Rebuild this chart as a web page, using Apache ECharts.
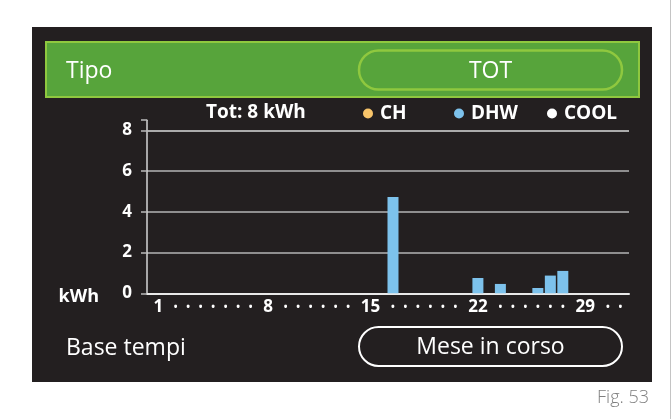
<!DOCTYPE html>
<html>
<head>
<meta charset="utf-8">
<title>Tipo TOT – Mese in corso</title>
<script src="https://cdn.jsdelivr.net/npm/echarts@6/dist/echarts.min.js"></script>
<style>
  html, body { margin: 0; padding: 0; background: #ffffff; }
  #stage { position: relative; width: 672px; height: 419px; }
  /* dark display panel behind the chart */
  #panel { position: absolute; left: 32px; top: 27px; width: 620px; height: 355px;
           background: #231f20; }
  #chart { position: absolute; left: 0; top: 0; width: 672px; height: 419px; }
</style>
</head>
<body>
<div id="stage">
  <div id="panel"></div>
  <div id="chart"></div>
</div>
<script>
// Day strip shown under the bars: numbered days and dots in between
const xTicks = ['1', '•', '•', '•', '•', '•', '•', '•', '8', '•', '•', '•', '•', '•', '•',
                '15', '•', '•', '•', '•', '•', '•', '22', '•', '•', '•', '•', '•', '•',
                '29', '•', '•'];

// Daily energy per use (kWh), one entry per position of the strip
const chValues   = [0, 0, 0, 0, 0, 0, 0, 0, 0, 0, 0, 0, 0, 0, 0, 0,
                    0, 0, 0, 0, 0, 0, 0, 0, 0, 0, 0, 0, 0, 0, 0, 0];
const dhwValues  = [0, 0, 0, 0, 0, 0, 0, 0, 0, 0, 0, 0, 0, 0, 0, 0,
                    4.73, 0, 0, 0, 0, 0, 0.75, 0.46, 0, 0, 0.26, 0.87, 1.10, 0, 0, 0];
const coolValues = [0, 0, 0, 0, 0, 0, 0, 0, 0, 0, 0, 0, 0, 0, 0, 0,
                    0, 0, 0, 0, 0, 0, 0, 0, 0, 0, 0, 0, 0, 0, 0, 0];

const yTicks = [0, 2, 4, 6, 8];
const yTop = 8.5;   // the value axis runs a little past its last tick

// --- layout of the day strip -------------------------------------------
// The strip is laid out like a line of text: numbers take more room than
// dots, so every entry is placed on a fine sub-slot grid.
const LEAD = 4, TRAIL = 3, STEP = 5;
const extra = t => (t === '•' ? 0 : t.length === 1 ? 2 : 4);
const slotOf = [];
let pos = LEAD;
xTicks.forEach((t, i) => {
  slotOf.push(pos);
  if (i < xTicks.length - 1) pos += STEP + extra(t) + extra(xTicks[i + 1]);
});
const slotCount = slotOf[slotOf.length - 1] + 1 + TRAIL;
const slots = Array.from({ length: slotCount }, (_, k) => k);
const labelAt = slots.map(() => '');
slotOf.forEach((s, i) => { labelAt[s] = xTicks[i]; });
const toSlots = values => {
  const out = slots.map(() => null);
  slotOf.forEach((s, i) => { out[s] = values[i] || null; });
  return out;
};

const total = [chValues, dhwValues, coolValues]
  .reduce((acc, arr) => acc + arr.reduce((a, b) => a + b, 0), 0);

const colors = { CH: '#f8c46a', DHW: '#7dc2ec', COOL: '#ffffff' };
const FONT = '"Open Sans", "Noto Sans", sans-serif';
const GREEN = '#57a43b';
const GREEN_LIGHT = '#8fc83f';

const chart = echarts.init(document.getElementById('chart'), null, { renderer: 'canvas' });

const legendAt = (name, left) => ({
  data: [name],
  left: left,
  top: 104,
  padding: 0,
  icon: 'circle',
  itemWidth: 10,
  itemHeight: 10,
  selectedMode: false,
  textStyle: {
    color: '#ffffff', fontFamily: FONT, fontWeight: 'bold', fontSize: 19,
    padding: [0, 0, 0, 2]
  }
});

const barSeries = (name, values) => ({
  name: name,
  type: 'bar',
  barWidth: 11,
  barGap: '-100%',
  data: toSlots(values),
  itemStyle: { color: colors[name] }
});

const dhwSeries = barSeries('DHW', dhwValues);
// grid line for the last tick of the scale
dhwSeries.markLine = {
  silent: true,
  z: 20,
  symbol: ['none', 'none'],
  label: { show: false },
  lineStyle: { color: '#b4b4b4', width: 1.5, type: 'solid' },
  data: [{ yAxis: yTicks[yTicks.length - 1] }]
};

chart.setOption({
  animation: false,
  backgroundColor: 'transparent',
  textStyle: { fontFamily: FONT },
  title: {
    text: 'Tot: ' + Math.round(total) + ' kWh',
    left: 206,
    top: 103,
    padding: 0,
    textStyle: { color: '#ffffff', fontFamily: FONT, fontWeight: 'bold', fontSize: 19 }
  },
  legend: [legendAt('CH', 363), legendAt('DHW', 454), legendAt('COOL', 547)],
  grid: {
    left: 147, right: 43, top: 120.2, bottom: 125.7,
    outerBoundsMode: 'none'
  },
  xAxis: {
    type: 'category',
    data: slots,
    boundaryGap: true,
    axisLine: { show: true, lineStyle: { color: '#e9e9e9', width: 2 } },
    axisTick: { show: false },
    splitLine: { show: false },
    axisLabel: {
      interval: 0,
      margin: 4,
      color: '#ffffff',
      fontFamily: FONT,
      fontWeight: 'bold',
      fontSize: 17,
      lineHeight: 20,
      formatter: (value, index) => {
        const t = labelAt[index];
        if (!t) return '';
        return t === '•' ? '{dot|•}' : t;
      },
      rich: {
        dot: { fontSize: 10, lineHeight: 20, color: '#ffffff', fontWeight: 'bold', fontFamily: FONT }
      }
    }
  },
  yAxis: {
    type: 'value',
    min: 0,
    max: yTop,
    interval: 2,
    name: 'kWh',
    nameLocation: 'start',
    nameGap: 3.4,
    nameTextStyle: {
      color: '#ffffff', fontFamily: FONT, fontWeight: 'bold', fontSize: 18,
      align: 'right', verticalAlign: 'middle', padding: [0, 48, 0, 0]
    },
    axisLine: { show: true, lineStyle: { color: '#d6d6d6', width: 1.5 } },
    axisTick: {
      show: true, length: 6,
      lineStyle: { color: '#b9b9b9', width: 1.5 }
    },
    splitLine: {
      show: true,
      showMaxLine: false,
      lineStyle: { color: '#b4b4b4', width: 1.5 }
    },
    axisLabel: {
      margin: 15,
      color: '#ffffff',
      fontFamily: FONT,
      fontWeight: 'bold',
      fontSize: 17,
      formatter: v => (yTicks.indexOf(v) >= 0 ? String(v) : '')
    }
  },
  series: [
    barSeries('CH', chValues),
    dhwSeries,
    barSeries('COOL', coolValues)
  ],
  graphic: [
    // "Tipo" header bar
    { type: 'rect', silent: true,
      shape: { x: 46, y: 42, width: 593, height: 55 },
      style: { fill: GREEN, stroke: GREEN_LIGHT, lineWidth: 2 } },
    { type: 'rect', silent: true,
      shape: { x: 359, y: 50.5, width: 263, height: 39, r: 19.5 },
      style: { fill: 'none', stroke: GREEN_LIGHT, lineWidth: 2.5 } },
    { type: 'text', silent: true, x: 66, y: 71.5,
      style: { text: 'Tipo', fill: '#ffffff', font: '23px ' + FONT,
               verticalAlign: 'middle', align: 'left' } },
    { type: 'text', silent: true, x: 490.5, y: 71.5,
      style: { text: 'TOT', fill: '#ffffff', font: '23px ' + FONT,
               verticalAlign: 'middle', align: 'center' } },
    // time base row
    { type: 'rect', silent: true,
      shape: { x: 359, y: 327, width: 263, height: 39, r: 19.5 },
      style: { fill: 'none', stroke: '#ffffff', lineWidth: 2 } },
    { type: 'text', silent: true, x: 66, y: 348.5,
      style: { text: 'Base tempi', fill: '#ffffff', font: '23px ' + FONT,
               verticalAlign: 'middle', align: 'left' } },
    { type: 'text', silent: true, x: 490.5, y: 347.5,
      style: { text: 'Mese in corso', fill: '#ffffff', font: '23px ' + FONT,
               verticalAlign: 'middle', align: 'center' } },
    // figure caption and frame edge
    { type: 'text', silent: true, x: 649, y: 398,
      style: { text: 'Fig. 53', fill: '#808080', font: '300 18px ' + FONT,
               verticalAlign: 'middle', align: 'right' } },
    { type: 'line', silent: true,
      shape: { x1: 670.5, y1: 0, x2: 670.5, y2: 419 },
      style: { stroke: '#c4c4c4', lineWidth: 1 } }
  ]
});
</script>
</body>
</html>
